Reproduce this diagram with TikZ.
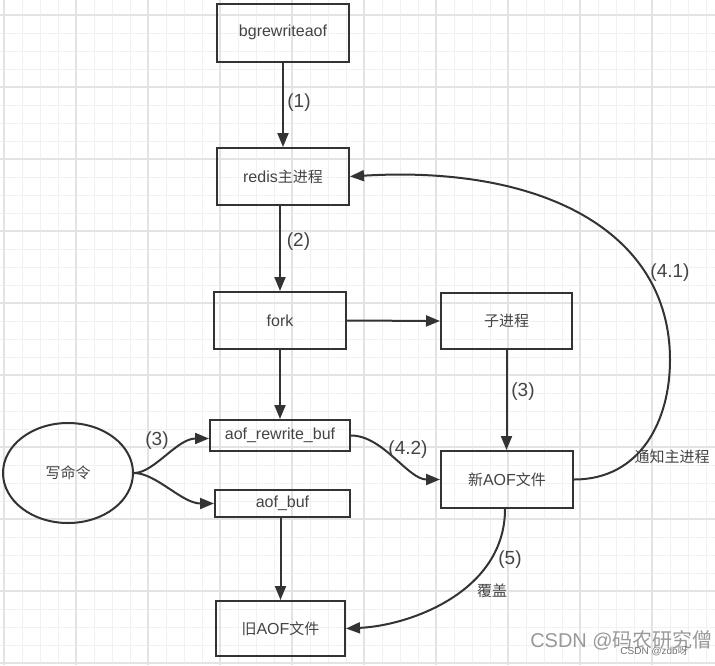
\documentclass[tikz,border=0pt]{standalone}
\usepackage{fontspec}
\setmainfont{Liberation Sans}
\newfontfamily\cjk{Noto Sans CJK SC}
\usetikzlibrary{arrows.meta,shapes.geometric}
\definecolor{ink}{HTML}{333333}
\definecolor{txt}{HTML}{444444}
\definecolor{gridminor}{HTML}{F1F1F1}
\definecolor{gridmajor}{HTML}{E3E3E3}
\tikzset{
  box/.style={draw=ink, line width=2pt, rectangle, text=txt, inner sep=0pt,
    font=\fontsize{16}{19}\selectfont},
  oval/.style={draw=ink, line width=2pt, ellipse, text=txt, inner sep=0pt,
    minimum width=130pt, minimum height=100pt, font=\fontsize{16}{19}\selectfont},
  conn/.style={draw=ink, line width=2pt, -{Triangle[length=14pt,width=11pt]}},
  lbl/.style={text=txt, inner sep=0pt, font=\fontsize{19}{22}\selectfont},
  clbl/.style={text=txt, inner sep=0pt, font=\fontsize{15}{18}\selectfont\cjk},
  gminor/.style={draw=gridminor, line width=1pt},
  gmajor/.style={draw=gridmajor, line width=1.2pt},
}
\begin{document}
\begin{tikzpicture}[x=1pt,y=-1pt]
\useasboundingbox (0,0) rectangle (715,665);
\fill[white] (0,0) rectangle (715,665);
% grid
\foreach \x in {4,22,...,715} \draw[gminor] (\x,0) -- (\x,665);
\foreach \y in {15,33,...,665} \draw[gminor] (0,\y) -- (715,\y);
\foreach \x in {4,76,...,715} \draw[gmajor] (\x,0) -- (\x,665);
\foreach \y in {15,87,...,665} \draw[gmajor] (0,\y) -- (715,\y);

% nodes
\node[box, minimum width=132pt, minimum height=58pt] (bg) at (283,32.5) {bgrewriteaof};
\node[box, minimum width=132pt, minimum height=57pt] (redis) at (283,176.5) {redis{\cjk\fontsize{15}{18}\selectfont 主进程}};
\node[box, minimum width=132pt, minimum height=57pt] (fork) at (280,320.5) {fork};
\node[box, minimum width=131pt, minimum height=56pt] (child) at (506.5,321) {{\cjk\fontsize{15}{18}\selectfont 子进程}};
\node[box, minimum width=140pt, minimum height=31pt] (arb) at (280,435.5) {aof\_rewrite\_buf};
\node[box, minimum width=135pt, minimum height=27pt] (ab) at (282.5,503.5) {aof\_buf};
\node[box, minimum width=132pt, minimum height=57pt] (newaof) at (507,479.5) {{\cjk\fontsize{15}{18}\selectfont 新}AOF{\cjk\fontsize{15}{18}\selectfont 文件}};
\node[box, minimum width=129pt, minimum height=55pt] (oldaof) at (280.5,628.5) {{\cjk\fontsize{15}{18}\selectfont 旧}AOF{\cjk\fontsize{15}{18}\selectfont 文件}};
\node[oval] (write) at (68,473) {{\cjk\fontsize{15}{18}\selectfont 写命令}};

% connectors
\draw[conn] (bg.south) -- (redis.north);
\draw[conn] (redis.south -| fork.north) -- (fork.north);
\draw[conn] (fork.east) -- (child.west);
\draw[conn] (fork.south) -- (arb.north -| fork.south);
\draw[conn] (child.south) -- (child.south |- newaof.north);
\draw[conn] (ab.south -| oldaof.north) -- (oldaof.north);
\draw[conn] (write.east) .. controls +(20,0) and +(-32,0) .. ([yshift=-3pt]arb.west);
\draw[conn] (write.east) .. controls +(22,0) and +(-32,0) .. (ab.west);
\draw[conn] (arb.east) .. controls +(32,0) and +(-32,0) .. (newaof.west);
\draw[conn] (newaof.east) .. controls +(67,0) and (670,420) .. (670,360)
   .. controls (670,230) and (540,165) .. (redis.east);
\draw[conn] ([xshift=-2pt]newaof.south) .. controls +(0,82) and +(65,-3) .. (oldaof.east);

% labels
\node[lbl] (l1) at (299,103) {(1)};
\node[lbl] (l2) at (298.5,241.5) {(2)};
\node[lbl] (l3a) at (157,441) {(3)};
\node[lbl] (l3b) at (523,392) {(3)};
\node[lbl] (l42) at (408,450) {(4.2)};
\node[lbl] (l41) at (670,273) {(4.1)};
\node[clbl] (notify) at (672,457) {通知主进程};
\node[lbl] (l5) at (510,560) {(5)};
\node[clbl] (cover) at (492,591) {覆盖};

% watermark
\node[text=black!40, inner sep=0pt, anchor=east, font=\fontsize{20}{24}\selectfont] (wm) at (713,640) {CSDN @{\cjk 码农研究僧}};
\node[text=black!55, inner sep=0pt, anchor=east, font=\fontsize{10}{12}\selectfont] (wm2) at (688,651) {CSDN @zdb{\cjk 呀}};
\end{tikzpicture}
\end{document}
